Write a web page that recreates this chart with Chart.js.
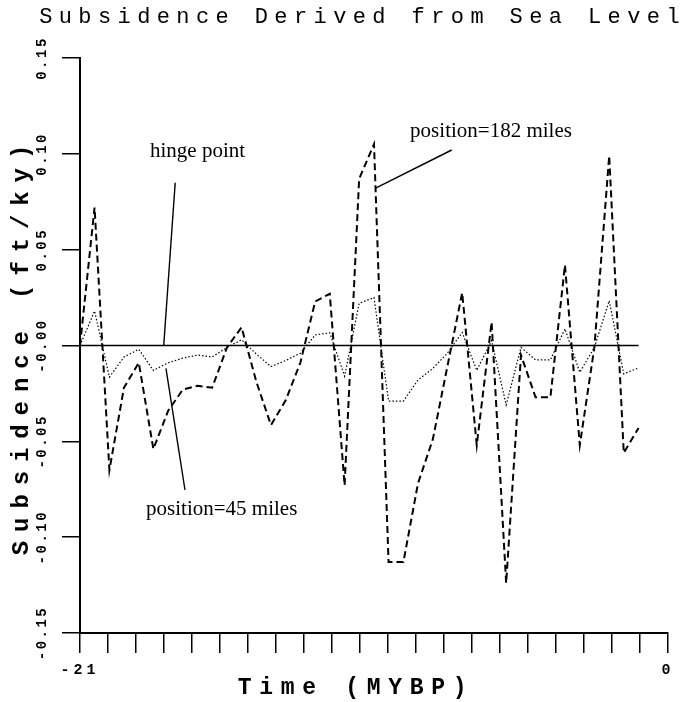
<!DOCTYPE html>
<html>
<head>
<meta charset="utf-8">
<script src="https://cdn.jsdelivr.net/npm/chart.js@4/dist/chart.umd.min.js"></script>
<style>
  html, body { margin: 0; padding: 0; background: #ffffff; }
  #wrap { width: 686px; height: 702px; }
</style>
</head>
<body>
<div id="wrap"><canvas id="c" width="686" height="702"></canvas></div>
<script>
// ---- data ----
const timeMYBP = [-21, -20.48, -19.95, -19.43, -18.9, -18.38, -17.85, -17.33, -16.8, -16.28,
  -15.75, -15.23, -14.7, -14.18, -13.65, -13.13, -12.6, -12.08, -11.55, -11.03,
  -10.5, -9.98, -9.45, -8.93, -8.4, -7.88, -7.35, -6.83, -6.3, -5.78,
  -5.25, -4.73, -4.2, -3.68, -3.15, -2.63, -2.1, -1.58, -1.05];

const subsidence182 = [0, 0.072, -0.065, -0.022, -0.009, -0.054, -0.034, -0.023, -0.021, -0.022,
  -0.001, 0.0095, -0.019, -0.0415, -0.0285, -0.009, 0.023, 0.027, -0.073, 0.087,
  0.105, -0.113, -0.113, -0.072, -0.049, -0.011, 0.0275, -0.052, 0.0122, -0.124,
  -0.005, -0.027, -0.027, 0.042, -0.052, -0.001, 0.099, -0.056, -0.043];

const subsidence45 = [0, 0.018, -0.0165, -0.006, -0.002, -0.013, -0.009, -0.0066, -0.005, -0.006,
  -0.001, 0.003, -0.0045, -0.011, -0.0078, -0.004, 0.0055, 0.0066, -0.016, 0.022,
  0.025, -0.029, -0.029, -0.018, -0.012, -0.004, 0.0068, -0.013, 0.0025, -0.031,
  -0.001, -0.0075, -0.0075, 0.0087, -0.014, -0.001, 0.0234, -0.0148, -0.0117];

const hingeLevel = 0;

const yTickLabels = ['-0.15', '-0.10', '-0.05', '-0.00', '0.05', '0.10', '0.15'];
const xLabeledTicks = [-21, 0];

const chartTitle = 'Subsidence Derived from Sea Level';
const xTitle = 'Time (MYBP)';
const yTitle = 'Subsidence (ft/ky)';

// annotation callouts (text + leader line), in data coordinates
const callouts = [
  { text: 'hinge point',        tx: -18.5,  ty: 0.0983,  x1: -17.60, y1: 0.0849,  x2: -18.01, y2: 0 },
  { text: 'position=182 miles', tx: -9.21,  ty: 0.1086,  x1: -7.725, y1: 0.1020,  x2: -10.46, y2: 0.0820 },
  { text: 'position=45 miles',  tx: -18.64, ty: -0.0884, x1: -17.25, y1: -0.0754, x2: -17.93, y2: -0.0119 }
];

// ---- rendering ----
const MONO = "'Liberation Mono', 'DejaVu Sans Mono', monospace";
const SERIF = "'Liberation Serif', 'DejaVu Serif', serif";
const spacingBySize = { 14: 2.5, 15: 4, 22: 6.4, 23: 7.7, 24: 8.9 };
const textNudgeX = { 'Time (MYBP)': -18 };

const letterSpacingPlugin = {
  id: 'letterSpacing',
  beforeDraw(chart) {
    const ctx = chart.ctx;
    if (ctx.__lsPatched) return;
    const orig = CanvasRenderingContext2D.prototype.fillText;
    ctx.fillText = function (t, x, y, m) {
      const f = this.font || '';
      let ls = 0;
      if (/Liberation Mono/i.test(f)) {
        const mm = /(\d+(?:\.\d+)?)px/.exec(f);
        if (mm) ls = spacingBySize[Math.round(parseFloat(mm[1]))] || 0;
      }
      const nx = x + (textNudgeX[t] || 0);
      const prev = this.letterSpacing;
      try { this.letterSpacing = ls + 'px'; } catch (e) {}
      if (m === undefined) orig.call(this, t, nx, y); else orig.call(this, t, nx, y, m);
      try { this.letterSpacing = prev; } catch (e) {}
    };
    ctx.__lsPatched = true;
  }
};

const calloutPlugin = {
  id: 'callouts',
  afterDatasetsDraw(chart) {
    const ctx = chart.ctx;
    const xs = chart.scales.x, ys = chart.scales.y;
    ctx.save();
    ctx.strokeStyle = '#000';
    ctx.fillStyle = '#000';
    ctx.lineWidth = 1.4;
    ctx.setLineDash([]);
    ctx.font = "21px " + SERIF;
    ctx.textAlign = 'left';
    ctx.textBaseline = 'alphabetic';
    callouts.forEach(c => {
      ctx.beginPath();
      ctx.moveTo(xs.getPixelForValue(c.x1), ys.getPixelForValue(c.y1));
      ctx.lineTo(xs.getPixelForValue(c.x2), ys.getPixelForValue(c.y2));
      ctx.stroke();
      ctx.fillText(c.text, xs.getPixelForValue(c.tx), ys.getPixelForValue(c.ty));
    });
    ctx.restore();
  }
};

const toPoints = (vals) => timeMYBP.map((t, i) => ({ x: t, y: vals[i] }));

new Chart(document.getElementById('c'), {
  type: 'line',
  data: {
    datasets: [
      {
        label: 'hinge point',
        data: timeMYBP.map(t => ({ x: t, y: hingeLevel })),
        borderColor: '#000', borderWidth: 1.6, pointRadius: 0, tension: 0
      },
      {
        label: 'position=182 miles',
        data: toPoints(subsidence182),
        borderColor: '#000', borderWidth: 2, borderDash: [7, 4],
        pointRadius: 0, tension: 0
      },
      {
        label: 'position=45 miles',
        data: toPoints(subsidence45),
        borderColor: '#000', borderWidth: 1.2, borderDash: [1.5, 2],
        pointRadius: 0, tension: 0
      }
    ]
  },
  options: {
    responsive: false,
    devicePixelRatio: 1,
    animation: false,
    layout: { padding: 0 },
    plugins: {
      legend: { display: false },
      tooltip: { enabled: false },
      title: {
        display: true,
        text: chartTitle,
        align: 'end',
        color: '#000',
        font: { family: MONO, size: 22, weight: 'normal' },
        padding: { top: 4, bottom: 27.6 }
      }
    },
    scales: {
      x: {
        type: 'linear',
        min: -21, max: 0,
        afterFit(s) { s.height = 69; },
        border: { display: true, color: '#000', width: 2 },
        grid: { drawOnChartArea: false, drawTicks: true, tickLength: 20, color: '#000', lineWidth: 1.5 },
        ticks: {
          stepSize: 1, autoSkip: false, maxRotation: 0, minRotation: 0,
          color: '#000', padding: 8,
          font: { family: MONO, size: 15, weight: 'bold' },
          callback: (v) => {
            const r = Math.round(v);
            return (Math.abs(v - r) < 1e-6 && xLabeledTicks.includes(r)) ? String(r) : '';
          }
        },
        title: {
          display: true, text: xTitle, color: '#000',
          font: { family: MONO, size: 23, weight: 'bold' },
          padding: { top: 0, bottom: 0 }
        }
      },
      y: {
        type: 'linear',
        min: -0.15, max: 0.15,
        afterFit(s) { s.width = 80; },
        border: { display: true, color: '#000', width: 2 },
        grid: { drawOnChartArea: false, drawTicks: true, tickLength: 18, color: '#000', lineWidth: 1.5 },
        ticks: {
          stepSize: 0.05, autoSkip: false,
          minRotation: 90, maxRotation: 90,
          crossAlign: 'center',
          padding: -1,
          color: '#000',
          font: { family: MONO, size: 14, weight: 'bold' },
          callback: (v, i) => yTickLabels[i]
        },
        title: {
          display: true, text: yTitle, color: '#000',
          font: { family: MONO, size: 24, weight: 'bold' },
          padding: { top: 8, bottom: 0 }
        }
      },
      yRightSpacer: {
        type: 'linear',
        position: 'right',
        min: -0.15, max: 0.15,
        afterFit(s) { s.width = 18; },
        border: { display: false },
        grid: { display: false, drawTicks: false },
        ticks: { display: false },
        title: { display: false }
      }
    }
  },
  plugins: [letterSpacingPlugin, calloutPlugin]
});
</script>
</body>
</html>
